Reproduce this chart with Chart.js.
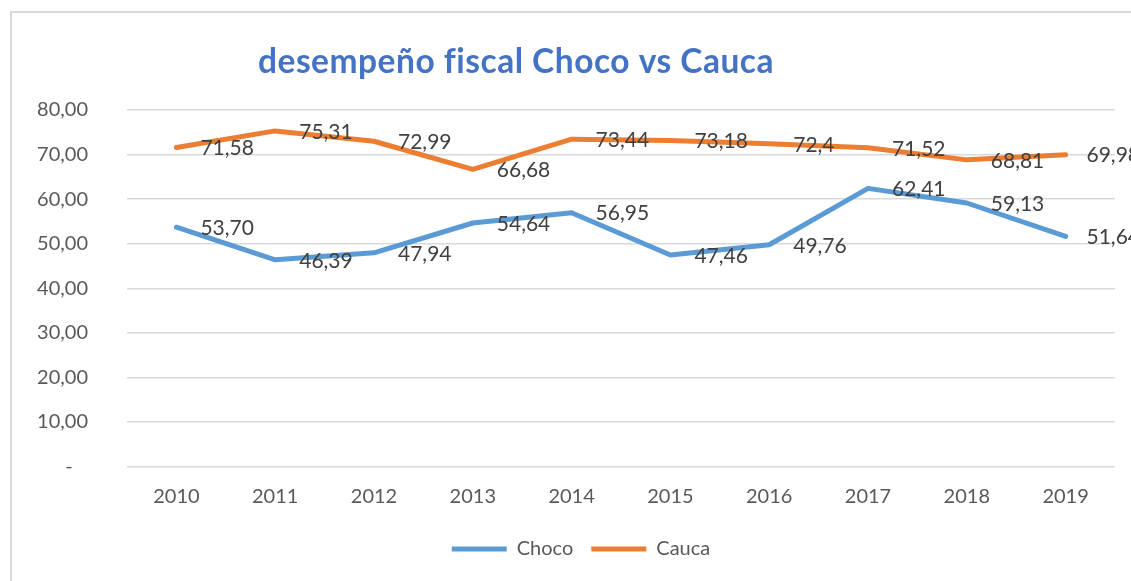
<!DOCTYPE html>
<html><head><meta charset="utf-8">
<script src="https://cdn.jsdelivr.net/npm/chart.js@4.4.1/dist/chart.umd.min.js"></script>
<style>
html,body{margin:0;padding:0;background:#fff;overflow:hidden;width:1131px;height:581px;}
#frame{position:absolute;left:10px;top:11px;width:1400px;height:900px;border:2px solid #d9d9d9;box-sizing:border-box;}
#c{position:absolute;left:0;top:0;}
</style></head><body>
<div id="frame"></div>
<canvas id="c" width="1131" height="581"></canvas>
<script>
const categories = ['2010','2011','2012','2013','2014','2015','2016','2017','2018','2019'];
const chocoValues = [53.70, 46.39, 47.94, 54.64, 56.95, 47.46, 49.76, 62.41, 59.13, 51.64];
const caucaValues = [71.58, 75.31, 72.99, 66.68, 73.44, 73.18, 72.4, 71.52, 68.81, 69.98];
const chocoLabels = ['53,70','46,39','47,94','54,64','56,95','47,46','49,76','62,41','59,13','51,64'];
const caucaLabels = ['71,58','75,31','72,99','66,68','73,44','73,18','72,4','71,52','68,81','69,98'];
const yTickLabels = ['-\u00a0\u00a0\u00a0', '10,00', '20,00', '30,00', '40,00', '50,00', '60,00', '70,00', '80,00'];
const titleText = 'desempeño fiscal Choco vs Cauca';

const FONT = 'Lato, "Open Sans", sans-serif';
const LABEL_RIGHT_LIMIT = 1140; // original chart object extends past the cropped view

const dataLabelPlugin = {
  id: 'dataLabels',
  afterDatasetsDraw(chart) {
    const ctx = chart.ctx;
    ctx.save();
    ctx.font = '21px ' + FONT;
    ctx.fillStyle = '#404040';
    ctx.textAlign = 'left';
    ctx.textBaseline = 'middle';
    chart.data.datasets.forEach((ds, di) => {
      const meta = chart.getDatasetMeta(di);
      meta.data.forEach((pt, i) => {
        const txt = ds.dataLabels[i];
        const w = ctx.measureText(txt).width;
        const x = Math.min(pt.x + 24, LABEL_RIGHT_LIMIT - w);
        ctx.fillText(txt, x, pt.y + 1);
      });
    });
    ctx.restore();
  }
};

const titlePlugin = {
  id: 'customTitle',
  afterDraw(chart) {
    const ctx = chart.ctx;
    ctx.save();
    ctx.font = 'bold 33.5px ' + FONT;
    try { ctx.letterSpacing = '0.5px'; } catch (e) {}
    ctx.fillStyle = '#4472C4';
    ctx.textAlign = 'center';
    ctx.textBaseline = 'alphabetic';
    ctx.fillText(titleText, 516, 73);
    ctx.restore();
  }
};

// let the y tick labels extend left of the layout padding without being clipped
const yAxisSpanPlugin = {
  id: 'yAxisSpan',
  afterLayout(chart) {
    const y = chart.scales.y;
    y.left = 0;
    y.width = y.right - y.left;
  }
};

new Chart(document.getElementById('c'), {
  type: 'line',
  data: {
    labels: categories,
    datasets: [
      { label: 'Choco', data: chocoValues, dataLabels: chocoLabels,
        borderColor: '#5B9BD5', backgroundColor: '#5B9BD5', borderWidth: 5,
        pointRadius: 0, pointHoverRadius: 0, tension: 0,
        borderCapStyle: 'round', borderJoinStyle: 'round', fill: false },
      { label: 'Cauca', data: caucaValues, dataLabels: caucaLabels,
        borderColor: '#ED7D31', backgroundColor: '#ED7D31', borderWidth: 5,
        pointRadius: 0, pointHoverRadius: 0, tension: 0,
        borderCapStyle: 'round', borderJoinStyle: 'round', fill: false }
    ]
  },
  options: {
    responsive: false,
    animation: false,
    events: [],
    layout: { padding: { left: 47, right: 16, top: 110, bottom: 12 } },
    plugins: {
      title: { display: false },
      tooltip: { enabled: false },
      legend: {
        position: 'bottom',
        labels: {
          usePointStyle: true, pointStyle: 'line', pointStyleWidth: 55,
          font: { family: FONT, size: 20 }, color: '#595959', padding: 18
        }
      }
    },
    scales: {
      x: {
        offset: true,
        grid: { display: false, drawTicks: false },
        border: { display: false },
        ticks: { font: { family: FONT, size: 20 }, color: '#595959', padding: 18.5, maxRotation: 0 },
        afterFit(scale) { scale.height = 54.5; }
      },
      y: {
        min: 0, max: 80,
        grid: { color: '#d9d9d9', lineWidth: 1.5, drawTicks: false },
        border: { display: false },
        ticks: {
          stepSize: 10, font: { family: FONT, size: 20 }, color: '#595959', padding: 39,
          callback: (v) => yTickLabels[Math.round(v / 10)]
        },
        afterFit(scale) { scale.width = 80; }
      }
    }
  },
  plugins: [yAxisSpanPlugin, dataLabelPlugin, titlePlugin]
});
</script>
</body></html>
